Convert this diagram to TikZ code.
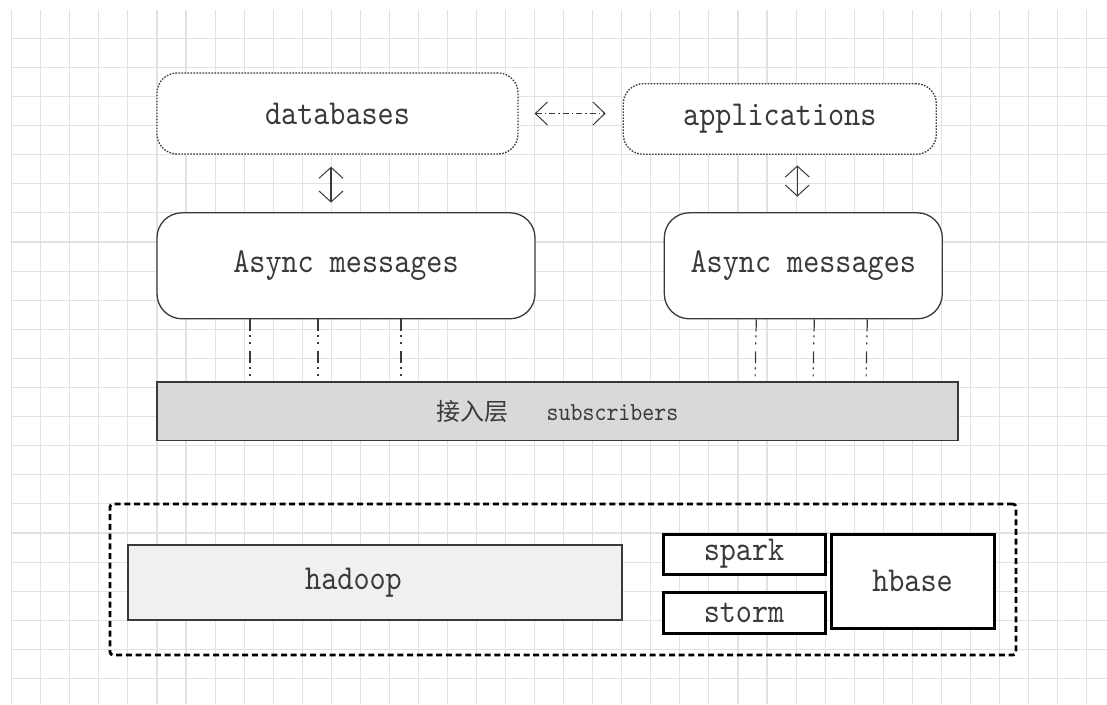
\documentclass[tikz,border=0pt]{standalone}
\usepackage{fontspec}
\usepackage{tikz}
\usetikzlibrary{positioning,arrows.meta}

\newfontfamily\boxfont{lmmono10-regular.otf}[FakeStretch=0.876]
\newfontfamily\cjkfont{Noto Sans CJK SC}

\definecolor{ink}{HTML}{3A3A3A}
\definecolor{gridgray}{HTML}{E2E2E2}
\definecolor{layergray}{HTML}{D9D9D9}
\definecolor{hadoopgray}{HTML}{F0F0F0}

\tikzset{
    gridline/.style={draw=gridgray, line width=1.1pt},
    store/.style={draw=ink, fill=white, line width=1.3pt, dash pattern=on 1.6pt off 1.4pt,
        rounded corners=20pt, inner sep=0pt, text=ink, font=\boxfont\fontsize{35}{40}\selectfont},
    queue/.style={draw=ink, fill=white, line width=1.3pt, rounded corners=25pt,
        inner sep=0pt, text=ink, font=\boxfont\fontsize{35}{40}\selectfont},
    layer/.style={draw=ink, fill=layergray, line width=1.3pt, inner sep=0pt, text=ink},
    frame/.style={draw=black, line width=2.8pt, dash pattern=on 6pt off 3.7pt,
        rounded corners=3pt, inner sep=0pt},
    cluster/.style={draw=ink, fill=hadoopgray, line width=1.2pt, inner sep=0pt,
        text=ink, font=\boxfont\fontsize{35}{40}\selectfont},
    engine/.style={draw=black, fill=white, line width=3pt, inner sep=0pt,
        text=ink, font=\boxfont\fontsize{35}{40}\selectfont},
    dblarrow/.style={{Straight Barb[length=11pt,width=24pt,line width=1pt]}-{Straight Barb[length=11pt,width=24pt,line width=1pt]},
        draw=ink, line width=1.4pt},
    link/.style={{Straight Barb[length=12pt,width=23pt]}-{Straight Barb[length=12pt,width=23pt]},
        draw=ink, line width=1pt, dash pattern=on 6pt off 3pt on 1.5pt off 3pt},
    feed/.style={draw=ink, line width=1.2pt, dash pattern=on 12pt off 4pt on 2pt off 5pt on 2pt off 7pt}
}

\begin{document}
\begin{tikzpicture}[x=1pt, y=-1pt]
            
            \useasboundingbox (0,0) rectangle (1107,704);
            
            % Grid
            
            \begin{scope}
                \clip (11,10) rectangle (1107,704);
                \foreach \k in {0,...,37}
                    \draw[gridline] ({11.7+29.05*\k},10) -- ({11.7+29.05*\k},704);
                \foreach \k in {0,...,23}
                    \draw[gridline] (11,{38.3+29.1*\k}) -- (1107,{38.3+29.1*\k});
            \end{scope}
            
            % Nodes
            
            \node[store, minimum width=361pt, minimum height=81pt] (db) at (337.5,113.5) {databases};
            \node[store, right=104pt of db, yshift=-5.5pt, minimum width=313pt, minimum height=70.5pt] (apps) {applications};
            \node[queue, below=57.5pt of db.south west, anchor=north west, minimum width=378pt, minimum height=106pt] (asyncL) {Async messages};
            \node[queue, right=128pt of asyncL, minimum width=278pt, minimum height=106pt] (asyncR) {Async messages};
            \node[layer, below=62pt of asyncL.south west, anchor=north west, minimum width=801pt, minimum height=58.5pt] (bar)
                {{\cjkfont\fontsize{24}{28}\selectfont 接入层}\hspace{38pt}{\boxfont\fontsize{26}{30}\selectfont subscribers}};
            
            \node[frame, minimum width=906pt, minimum height=151pt] (frame) at (563,579.5) {};
            \node[cluster, minimum width=494pt, minimum height=75pt] (hadoop) at (375,582.5) {hadoop\kern43pt};
            \node[engine, minimum width=162pt, minimum height=40pt] (spark) at (744,554) {spark};
            \node[engine, below=15pt of spark, minimum width=162pt, minimum height=41pt] (storm) {storm};
            \node[engine, right=3pt of spark.north east, anchor=north west, minimum width=163pt, minimum height=94pt] (hbase) {hbase};
            
            % Edges
            
            \draw[link, shorten <=16pt, shorten >=17pt] (db.east) -- (db.east -| apps.west);
            \draw[dblarrow, shorten <=12pt, shorten >=9.5pt] ([xshift=-6.5pt]db.south) -- ([xshift=-15pt]asyncL.north);
            \draw[dblarrow, shorten <=10.5pt, shorten >=15.5pt] ([xshift=17.5pt]apps.south) -- ([xshift=-6pt]asyncR.north);
            
            \foreach \dx/\bx in {-96/-307.5, -28/-239.5, 55/-156.5}
                \draw[feed, shorten >=3.5pt] ([xshift=\dx pt]asyncL.south) -- ([xshift=\bx pt]bar.north);
            \foreach \dx/\bx in {-47/197.5, 11/255.5, 64/308.5}
                \draw[feed, shorten >=3.5pt] ([xshift=\dx pt]asyncR.south) -- ([xshift=\bx pt]bar.north);
            
\end{tikzpicture}
\end{document}
